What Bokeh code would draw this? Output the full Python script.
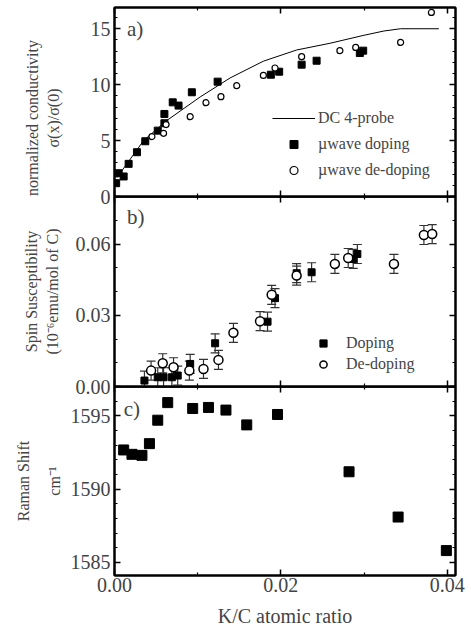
from bokeh.plotting import figure
from bokeh.models import (Range1d, LinearAxis, FixedTicker, NumeralTickFormatter,
                          Legend, LegendItem, Whisker, ColumnDataSource, Label, TeeHead)
from bokeh.layouts import column
from bokeh.embed import file_html
from bokeh.resources import INLINE

# ---------------- data ----------------
# panel a: normalized conductivity
dc_x = [0.0003, 0.0035, 0.0063, 0.0103, 0.0139, 0.0179, 0.0219, 0.0259, 0.0299, 0.0324, 0.0344, 0.0390]
dc_y = [1.7, 5.0, 6.8, 8.9, 10.6, 12.1, 13.1, 13.7, 14.4, 14.8, 15.0, 15.0]
mw_dop_x = [0.0002, 0.0005, 0.0011, 0.0017, 0.0027, 0.0037, 0.0052, 0.0060, 0.0060, 0.0070,
            0.0077, 0.0093, 0.0124, 0.0188, 0.0198, 0.0225, 0.0243, 0.0295, 0.0299]
mw_dop_y = [1.19, 2.08, 1.79, 2.92, 3.96, 4.94, 5.89, 6.55, 7.38, 8.42,
            8.13, 9.32, 10.27, 10.89, 11.16, 11.79, 12.14, 12.83, 13.04]
mw_dedop_x = [0.0045, 0.0059, 0.0062, 0.0091, 0.0110, 0.0128, 0.0147, 0.0179, 0.0193,
              0.0225, 0.0271, 0.0290, 0.0344, 0.0381]
mw_dedop_y = [5.36, 5.65, 6.43, 7.14, 8.39, 8.93, 9.91, 10.83, 11.49,
              12.50, 13.04, 13.33, 13.78, 16.46]

# panel b: spin susceptibility
sp_dop_x = [0.0036, 0.0052, 0.0059, 0.0069, 0.0076, 0.0091, 0.0121, 0.0184, 0.0193,
            0.0219, 0.0237, 0.0287, 0.0292]
sp_dop_y = [0.0025, 0.0039, 0.0039, 0.0039, 0.0046, 0.0095, 0.0182, 0.0273, 0.0372,
            0.0477, 0.0481, 0.0537, 0.0558]
sp_dop_err = [0.004, 0.004, 0.004, 0.004, 0.004, 0.004, 0.004, 0.004, 0.004,
              0.004, 0.004, 0.004, 0.004]
sp_dedop_x = [0.0044, 0.0058, 0.0071, 0.0090, 0.0107, 0.0125, 0.0143, 0.0175, 0.0189,
              0.0219, 0.0265, 0.0281, 0.0336, 0.0372, 0.0382]
sp_dedop_y = [0.0067, 0.0098, 0.0081, 0.0067, 0.0074, 0.0112, 0.0226, 0.0275, 0.0386,
              0.0467, 0.0516, 0.0541, 0.0516, 0.0638, 0.0642]
sp_dedop_err = [0.004, 0.004, 0.004, 0.004, 0.004, 0.004, 0.004, 0.004, 0.004,
                0.004, 0.004, 0.004, 0.004, 0.004, 0.004]

# panel c: Raman shift
ram_x = [0.0011, 0.0021, 0.0033, 0.0042, 0.0052, 0.0064, 0.0094, 0.0113, 0.0134,
         0.0159, 0.0196, 0.0282, 0.0341, 0.0399]
ram_y = [1592.67, 1592.37, 1592.30, 1593.10, 1594.70, 1595.90, 1595.50, 1595.57, 1595.39,
         1594.38, 1595.09, 1591.18, 1588.09, 1585.80]

x_ticks = [0.0, 0.02, 0.04]
x_minor = [0.01, 0.03]
a_ticks = [0, 5, 10, 15]
b_ticks = [0.0, 0.03, 0.06]
c_ticks = [1585, 1590, 1595]

FONT = "Liberation Serif"
W = 471
OV = 12  # overlap of stacked canvases so edge tick labels are not clipped
xr = Range1d(0, 0.041)
PAD = "\u00a0" * 8


def style_axis(ax, show_labels):
    ax.axis_line_width = 2
    ax.major_tick_in = 6
    ax.major_tick_out = 0
    ax.minor_tick_in = 3
    ax.minor_tick_out = 0
    ax.major_tick_line_width = 1.5
    ax.minor_tick_line_width = 1.2
    ax.major_label_text_font = FONT
    ax.axis_label_text_font = FONT
    ax.axis_label_text_font_style = "normal"
    if show_labels:
        ax.major_label_text_font_size = "20px"
        ax.major_label_standoff = 4
    else:
        ax.major_label_text_font_size = "0px"
        ax.major_label_standoff = 0
        ax.major_label_text_alpha = 0


def make_fig(height, yr, yt, ymin, top, bottom, ylabel, lab_standoff, show_x, fmt, margin,
             line_height=1.2):
    p = figure(width=W, height=height, x_range=xr, y_range=yr,
               output_backend="svg", toolbar_location=None,
               x_axis_location=None, y_axis_location=None,
               min_border_left=114, min_border_right=16,
               min_border_top=top, min_border_bottom=bottom, margin=margin)
    p.xgrid.visible = False
    p.ygrid.visible = False
    p.outline_line_color = "black"
    p.outline_line_width = 2
    p.background_fill_alpha = 0
    p.border_fill_alpha = 0

    xt = FixedTicker(ticks=x_ticks, minor_ticks=x_minor)
    ytk = FixedTicker(ticks=yt, minor_ticks=ymin)

    left = LinearAxis(ticker=ytk, formatter=NumeralTickFormatter(format=fmt))
    style_axis(left, True)
    left.axis_label = ylabel
    left.axis_label_text_font_size = "16px"
    left.axis_label_text_line_height = line_height
    left.axis_label_standoff = lab_standoff
    p.add_layout(left, "left")

    right = LinearAxis(ticker=ytk)
    style_axis(right, False)
    p.add_layout(right, "right")

    topax = LinearAxis(ticker=xt)
    style_axis(topax, False)
    p.add_layout(topax, "above")

    bot = LinearAxis(ticker=xt, formatter=NumeralTickFormatter(format="0.00"))
    style_axis(bot, show_x)
    if show_x:
        bot.axis_label = "K/C atomic ratio"
        bot.axis_label_text_font_size = "20px"
        bot.axis_label_standoff = 10
        bot.major_label_standoff = 2
    p.add_layout(bot, "below")
    return p


# ---------------- panel a ----------------
pa = make_fig(196 + OV, Range1d(0, 16.9), a_ticks, list(range(0, 17)), 7, OV,
              "normalized conductivity" + PAD + "\nσ(x)/σ(0)" + PAD, 26, False, "0", (0, 0, 0, 0))
r_line = pa.line(dc_x, dc_y, line_color="black", line_width=1)
r_sq = pa.scatter(mw_dop_x, mw_dop_y, marker="square", size=7, color="black")
r_ci = pa.scatter(mw_dedop_x, mw_dedop_y, marker="circle", size=6,
                  fill_color="white", line_color="black", line_width=1.2)
leg_a = Legend(items=[LegendItem(label="DC 4-probe", renderers=[r_line]),
                      LegendItem(label="µwave doping", renderers=[r_sq]),
                      LegendItem(label="µwave de-doping", renderers=[r_ci])],
               location=(158, 16), orientation="vertical",
               label_text_font=FONT, label_text_font_size="16px",
               glyph_width=43, glyph_height=20, label_height=20, spacing=6,
               label_standoff=3, padding=0, margin=0,
               border_line_color=None, background_fill_alpha=0)
pa.add_layout(leg_a, "center")
pa.add_layout(Label(x=0.0015, y=15.0, text="a)", text_font=FONT,
                    text_font_size="21px", text_baseline="middle"))

# ---------------- panel b ----------------
pb = make_fig(190 + OV, Range1d(0, 0.08), b_ticks, [0.01, 0.02, 0.04, 0.05, 0.07], 0, OV,
              "Spin Susceptibility\n(10⁻⁶emu/mol of C)", 12, False, "0.00", (-OV, 0, 0, 0))
src_d = ColumnDataSource(dict(x=sp_dop_x, y=sp_dop_y,
                              lo=[y - e for y, e in zip(sp_dop_y, sp_dop_err)],
                              hi=[y + e for y, e in zip(sp_dop_y, sp_dop_err)]))
src_o = ColumnDataSource(dict(x=sp_dedop_x, y=sp_dedop_y,
                              lo=[y - e for y, e in zip(sp_dedop_y, sp_dedop_err)],
                              hi=[y + e for y, e in zip(sp_dedop_y, sp_dedop_err)]))
for src in (src_d, src_o):
    w = Whisker(source=src, base="x", lower="lo", upper="hi", dimension="height",
                line_color="#333333", line_width=1.2,
                upper_head=TeeHead(size=9, line_color="#333333", line_width=1.2),
                lower_head=TeeHead(size=9, line_color="#333333", line_width=1.2))
    pb.add_layout(w)
rb_sq = pb.scatter("x", "y", source=src_d, marker="square", size=7, color="black")
rb_ci = pb.scatter("x", "y", source=src_o, marker="circle", size=9,
                   fill_color="white", line_color="black", line_width=1.5)
leg_b = Legend(items=[LegendItem(label="Doping", renderers=[rb_sq]),
                      LegendItem(label="De-doping", renderers=[rb_ci])],
               location=(199, 13), orientation="vertical",
               label_text_font=FONT, label_text_font_size="16px",
               glyph_width=20, glyph_height=18, label_height=18, spacing=3,
               label_standoff=13, padding=0, margin=0,
               border_line_color=None, background_fill_alpha=0)
pb.add_layout(leg_b, "center")
pb.add_layout(Label(x=0.0015, y=0.0712, text="b)", text_font=FONT,
                    text_font_size="21px", text_baseline="middle"))

# ---------------- panel c ----------------
pc = make_fig(243, Range1d(1584.1, 1597.0), c_ticks, list(range(1584, 1598)), 0, 54,
              "Raman Shift\ncm⁻¹", 5, True, "0", (-OV, 0, 0, 0), line_height=1.8)
pc.scatter(ram_x, ram_y, marker="square", size=10, color="black")
pc.add_layout(Label(x=0.0011, y=1595.46, text="c)", text_font=FONT,
                    text_font_size="21px", text_baseline="middle"))

layout = column(pa, pb, pc, spacing=0)
open("out.html", "w").write(file_html(layout, INLINE))
